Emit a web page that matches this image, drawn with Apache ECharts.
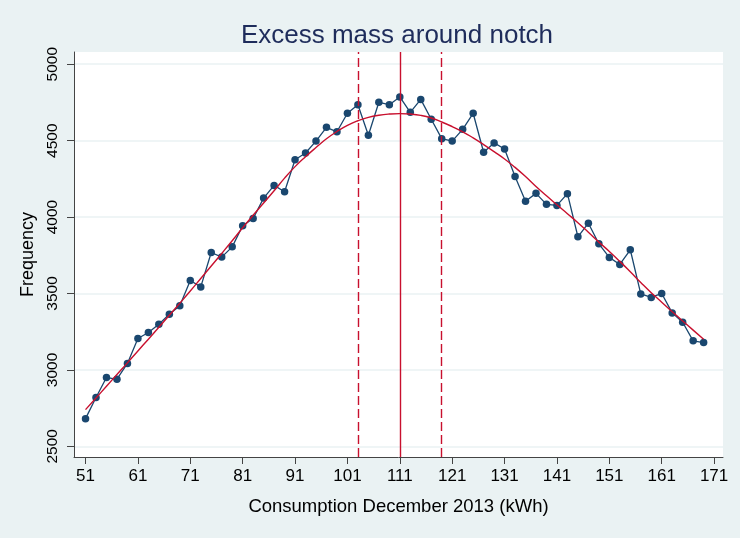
<!DOCTYPE html>
<html>
<head>
<meta charset="utf-8">
<script src="https://cdn.jsdelivr.net/npm/echarts@6/dist/echarts.min.js"></script>
<style>
  html, body { margin: 0; padding: 0; background: #EAF2F3; }
  #chart { width: 740px; height: 538px; }
</style>
</head>
<body>
<div id="chart"></div>
<script>
const kwh = [51,53,55,57,59,61,63,65,67,69,71,73,75,77,79,81,83,85,87,89,91,93,95,97,99,101,103,105,107,109,111,113,115,117,119,121,123,125,127,129,131,133,135,137,139,141,143,145,147,149,151,153,155,157,159,161,163,165,167,169];
const frequency = [2681,2819,2950,2939,3042,3205,3245,3299,3364,3419,3585,3543,3768,3738,3805,3943,3991,4124,4207,4166,4375,4419,4497,4587,4558,4679,4735,4535,4751,4735,4786,4685,4770,4640,4513,4497,4574,4679,4424,4485,4445,4266,4104,4155,4083,4076,4153,3871,3960,3825,3736,3690,3786,3497,3474,3500,3373,3312,3190,3179];
const fitted = [2740,2816,2893,2970,3046,3124,3201,3279,3357,3436,3516,3598,3680,3762,3845,3930,4012,4092,4172,4255,4330,4395,4455,4512,4560,4600,4630,4652,4666,4674,4677,4674,4665,4648,4622,4592,4558,4518,4474,4428,4380,4325,4265,4200,4140,4080,4022,3963,3900,3836,3775,3710,3642,3572,3505,3443,3381,3320,3260,3200];
const xTicks = [51,61,71,81,91,101,111,121,131,141,151,161,171];
const yTicks = [2500,3000,3500,4000,4500,5000];
const notch = 111;
const bounds = [103,119];

const navy = '#1A476F';
const red = '#C8102E';
const font = 'Liberation Sans, Arial, sans-serif';

const chart = echarts.init(document.getElementById('chart'));
chart.setOption({
  backgroundColor: '#EAF2F3',
  animation: false,
  title: {
    text: 'Excess mass around notch',
    left: 392, top: 18, textAlign: 'center',
    textStyle: { fontFamily: font, fontSize: 26, fontWeight: 'normal', color: '#1E2C5B' }
  },
  grid: { left: 74, right: 17, top: 52, bottom: 81, backgroundColor: '#FFFFFF', show: true, borderWidth: 0 },
  xAxis: {
    type: 'value', min: 48.8, max: 172.7,
    name: 'Consumption December 2013 (kWh)', nameLocation: 'middle', nameGap: 40,
    nameTextStyle: { fontFamily: font, fontSize: 18.5, color: '#000' },
    axisLine: { show: true, onZero: false, lineStyle: { color: '#444', width: 1 } },
    axisTick: { show: true, length: 7, customValues: xTicks, lineStyle: { color: '#444' } },
    axisLabel: { customValues: xTicks, margin: 11, fontFamily: font, fontSize: 17, color: '#000' },
    splitLine: { show: false }
  },
  yAxis: {
    type: 'value', min: 2430, max: 5080,
    name: 'Frequency', nameLocation: 'middle', nameGap: 34,
    nameTextStyle: { fontFamily: font, fontSize: 18, color: '#000' },
    axisLine: { show: true, onZero: false, lineStyle: { color: '#444', width: 1 } },
    axisTick: { show: true, length: 7, customValues: yTicks, lineStyle: { color: '#444' } },
    axisLabel: { customValues: yTicks, rotate: 90, margin: 13, fontFamily: font, fontSize: 15.5, color: '#000',
                 formatter: v => String(v) },
    splitLine: { show: true, lineStyle: { color: '#EAF2F3', width: 1.5 } }
  },
  series: [
    {
      type: 'line', name: 'Frequency',
      data: kwh.map((x, i) => [x, frequency[i]]),
      symbol: 'circle', symbolSize: 7.5,
      itemStyle: { color: navy },
      lineStyle: { color: navy, width: 1.3 },
      z: 3
    },
    {
      type: 'line', name: 'Fit',
      data: kwh.map((x, i) => [x, fitted[i]]),
      symbol: 'none', smooth: true,
      lineStyle: { color: red, width: 1.4 },
      z: 4,
      markLine: {
        silent: true, symbol: 'none', label: { show: false },
        data: [
          { xAxis: notch, lineStyle: { color: red, width: 1.4, type: 'solid' } },
          { xAxis: bounds[0], lineStyle: { color: red, width: 1.4, type: [9, 4] } },
          { xAxis: bounds[1], lineStyle: { color: red, width: 1.4, type: [9, 4] } }
        ]
      }
    }
  ]
});
</script>
</body>
</html>
